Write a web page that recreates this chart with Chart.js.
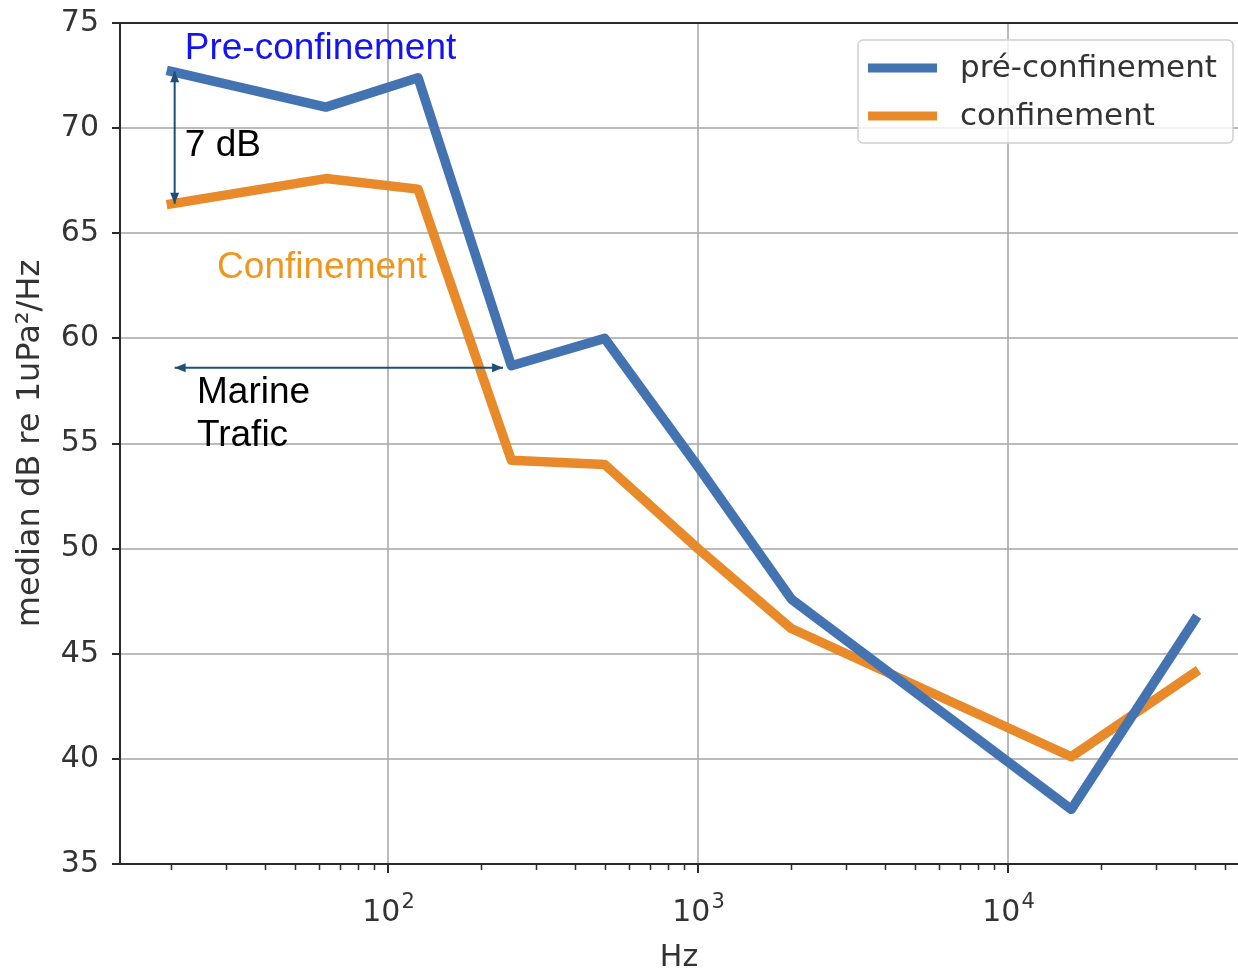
<!DOCTYPE html>
<html>
<head>
<meta charset="utf-8">
<title>Bruit sous-marin médian</title>
<script src="https://cdn.jsdelivr.net/npm/chart.js@4/dist/chart.umd.min.js"></script>
<style>
  html, body { margin: 0; padding: 0; background: #fff; }
  #wrap { width: 1238px; height: 970px; position: relative; }
</style>
</head>
<body>
<div id="wrap"><canvas id="c"></canvas></div>
<script>
// Third-octave centre frequencies (Hz)
const freqs = [20, 63, 125, 250, 500, 1000, 2000, 16000, 40000];
// Median levels, dB re 1 uPa²/Hz
const preConfinement = [72.7, 71.0, 72.4, 58.7, 60.0, 53.9, 47.6, 37.6, 46.6];
const confinement    = [66.4, 67.6, 67.1, 54.2, 54.0, 50.0, 46.2, 40.1, 44.1];
const seriesNames = ['pré-confinement', 'confinement'];
// Axis ticks
const yTicks = [35, 40, 45, 50, 55, 60, 65, 70, 75];
const xMajorTicks = [100, 1000, 10000];
const xTickBase = '10';
const xTickExponents = ['2', '3', '4'];
const xMinorMultipliers = [2, 3, 4, 5, 6, 7, 8, 9];
const xDecades = [10, 100, 1000, 10000];

const BLUE = '#4373b1';
const ORANGE = '#e8892a';
const AXIS = '#2b2b2b';
const GRID = 'rgba(170,170,170,0.8)';
const TEXT = '#333333';
const TICK_FONT = { family: 'DejaVu Sans', size: 30 };

// Annotation text and arrows, placed in data coordinates
const notes = [
  { text: 'Pre-confinement', x: 22.1, y: 73.75, color: '#1414f0' },
  { text: '7 dB',            x: 22.1, y: 69.15, color: '#000000' },
  { text: 'Confinement',     x: 28.1, y: 63.35, color: '#f0961e' },
  { text: 'Marine',          x: 24.2, y: 57.4, color: '#000000' },
  { text: 'Trafic',          x: 24.2, y: 55.35, color: '#000000' }
];
const arrows = [
  { x1: 20.5, y1: preConfinement[0], x2: 20.5, y2: confinement[0] },
  { x1: 20.5, y1: 58.6, x2: 235, y2: 58.6 }
];

const toPoints = (vals) => freqs.map((f, i) => ({ x: f, y: vals[i] }));

const whiteBackground = {
  id: 'whiteBackground',
  beforeDraw(chart) {
    const ctx = chart.ctx;
    ctx.save();
    ctx.fillStyle = '#fff';
    ctx.fillRect(0, 0, chart.width, chart.height);
    ctx.restore();
  }
};

// Top spine, minor log ticks and the 10^n tick labels with raised exponents
const frameAndXTicks = {
  id: 'frameAndXTicks',
  afterDraw(chart) {
    const { ctx, chartArea } = chart;
    const xs = chart.scales.x;
    ctx.save();
    ctx.strokeStyle = AXIS;
    ctx.lineWidth = 2;
    ctx.beginPath();
    ctx.moveTo(chartArea.left, chartArea.top);
    ctx.lineTo(chartArea.right, chartArea.top);
    ctx.stroke();
    ctx.lineWidth = 1.5;
    ctx.beginPath();
    xDecades.forEach(d => {
      xMinorMultipliers.forEach(m => {
        const v = d * m;
        if (v < xs.min || v > xs.max) return;
        const px = Math.round(xs.getPixelForValue(v)) + 0.5;
        ctx.moveTo(px, chartArea.bottom);
        ctx.lineTo(px, chartArea.bottom + 6);
      });
    });
    ctx.stroke();

    ctx.fillStyle = TEXT;
    ctx.textBaseline = 'alphabetic';
    ctx.textAlign = 'left';
    const baseFont = '30px "DejaVu Sans"';
    const expFont = '21px "DejaVu Sans"';
    const baseline = chartArea.bottom + 57;
    xMajorTicks.forEach((v, i) => {
      ctx.font = baseFont;
      const wb = ctx.measureText(xTickBase).width;
      ctx.font = expFont;
      const we = ctx.measureText(xTickExponents[i]).width;
      const x0 = xs.getPixelForValue(v) - (wb + we) / 2;
      ctx.font = baseFont;
      ctx.fillText(xTickBase, x0, baseline);
      ctx.font = expFont;
      ctx.fillText(xTickExponents[i], x0 + wb + 1, baseline - 13);
    });
    ctx.restore();
  }
};

function arrowHead(ctx, x, y, ang) {
  const len = 11, w = 4.5;
  ctx.beginPath();
  ctx.moveTo(x, y);
  ctx.lineTo(x - len * Math.cos(ang) + w * Math.sin(ang), y - len * Math.sin(ang) - w * Math.cos(ang));
  ctx.lineTo(x - len * Math.cos(ang) - w * Math.sin(ang), y - len * Math.sin(ang) + w * Math.cos(ang));
  ctx.closePath();
  ctx.fill();
}

const annotations = {
  id: 'annotations',
  afterDatasetsDraw(chart) {
    const { ctx } = chart;
    const xs = chart.scales.x, ys = chart.scales.y;
    ctx.save();
    ctx.strokeStyle = '#1f4e79';
    ctx.fillStyle = '#1f4e79';
    ctx.lineWidth = 2;
    arrows.forEach(a => {
      const x1 = xs.getPixelForValue(a.x1), y1 = ys.getPixelForValue(a.y1);
      const x2 = xs.getPixelForValue(a.x2), y2 = ys.getPixelForValue(a.y2);
      const ang = Math.atan2(y2 - y1, x2 - x1);
      ctx.beginPath();
      ctx.moveTo(x1, y1);
      ctx.lineTo(x2, y2);
      ctx.stroke();
      arrowHead(ctx, x2, y2, ang);
      arrowHead(ctx, x1, y1, ang + Math.PI);
    });
    ctx.font = '37px "Liberation Sans", Arial, sans-serif';
    ctx.textAlign = 'left';
    ctx.textBaseline = 'middle';
    notes.forEach(n => {
      ctx.fillStyle = n.color;
      ctx.fillText(n.text, xs.getPixelForValue(n.x), ys.getPixelForValue(n.y));
    });
    ctx.restore();
  }
};

const boxedLegend = {
  id: 'boxedLegend',
  afterDraw(chart) {
    const { ctx, chartArea } = chart;
    const right = chartArea.right - 5, top = chartArea.top + 17;
    const w = 375, h = 103, left = right - w;
    ctx.save();
    ctx.fillStyle = 'rgba(255,255,255,0.8)';
    ctx.strokeStyle = '#d0d0d0';
    ctx.lineWidth = 1.5;
    ctx.beginPath();
    ctx.roundRect(left, top, w, h, 5);
    ctx.fill();
    ctx.stroke();
    ctx.font = '31px "DejaVu Sans"';
    ctx.textBaseline = 'middle';
    chart.data.datasets.forEach((ds, i) => {
      const y = top + 28 + i * 48;
      ctx.strokeStyle = ds.borderColor;
      ctx.lineWidth = 9;
      ctx.lineCap = 'butt';
      ctx.beginPath();
      ctx.moveTo(left + 10, y);
      ctx.lineTo(left + 79, y);
      ctx.stroke();
      ctx.fillStyle = TEXT;
      ctx.fillText(ds.label, left + 102, y + 1);
    });
    ctx.restore();
  }
};

new Chart(document.getElementById('c'), {
  type: 'line',
  data: {
    datasets: [
      { label: seriesNames[0], data: toPoints(preConfinement), borderColor: BLUE },
      { label: seriesNames[1], data: toPoints(confinement), borderColor: ORANGE }
    ]
  },
  options: {
    responsive: true,
    maintainAspectRatio: false,
    animation: false,
    layout: { padding: { top: 23, right: 0, left: 0, bottom: 0 } },
    elements: {
      line: { borderWidth: 9.5, tension: 0, borderCapStyle: 'square', borderJoinStyle: 'round', fill: false },
      point: { radius: 0, hoverRadius: 0 }
    },
    plugins: {
      legend: { display: false },
      tooltip: { enabled: false }
    },
    scales: {
      x: {
        type: 'logarithmic',
        min: 13.66,
        max: 55200,
        afterBuildTicks: (scale) => { scale.ticks = xMajorTicks.map(v => ({ value: v, major: true })); },
        afterFit: (scale) => { scale.height = 106; scale.paddingLeft = 0; scale.paddingRight = 0; },
        ticks: {
          autoSkip: false,
          maxRotation: 0,
          font: TICK_FONT,
          color: 'rgba(0,0,0,0)',
          padding: 12,
          callback: () => ''
        },
        grid: { color: GRID, lineWidth: 2, tickLength: 9, tickColor: AXIS, tickWidth: 2 },
        border: { display: true, color: AXIS, width: 2 },
        title: { display: true, text: 'Hz', font: { family: 'DejaVu Sans', size: 30 }, color: TEXT, padding: { top: 0, bottom: -6 } }
      },
      y: {
        min: 35,
        max: 75,
        afterBuildTicks: (scale) => { scale.ticks = yTicks.map(v => ({ value: v })); },
        afterFit: (scale) => { scale.width = 120; scale.paddingTop = 0; scale.paddingBottom = 0; },
        ticks: { font: TICK_FONT, color: TEXT, padding: 13 },
        grid: { color: GRID, lineWidth: 2, tickLength: 8, tickColor: AXIS, tickWidth: 2 },
        border: { display: true, color: AXIS, width: 2 },
        title: { display: true, text: 'median dB re 1uPa²/Hz', font: { family: 'DejaVu Sans', size: 32 }, color: TEXT, padding: { top: 11, bottom: 0 } }
      }
    }
  },
  plugins: [whiteBackground, frameAndXTicks, annotations, boxedLegend]
});
</script>
</body>
</html>
